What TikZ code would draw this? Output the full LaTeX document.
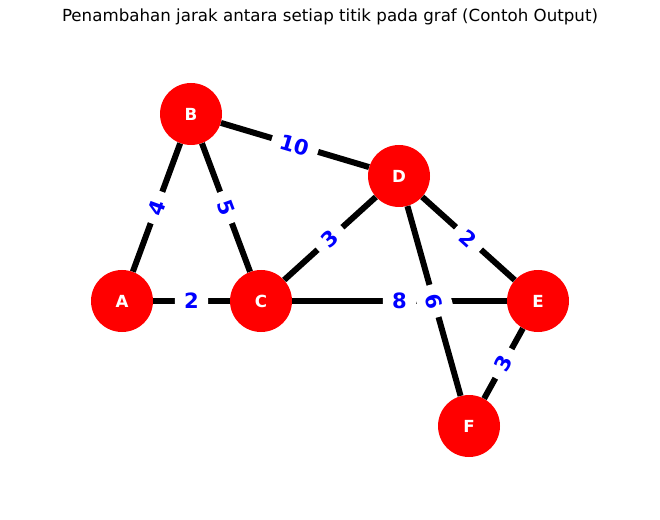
\documentclass[tikz,border=0pt]{standalone}
\usepackage{fontspec}
\setmainfont{DejaVu Sans}
\begin{document}
\begin{tikzpicture}[x=0.75pt,y=-0.75pt,
  vert/.style={circle,fill=red,minimum size=46.5pt,inner sep=0pt,text=white,font=\fontsize{12.5}{14}\selectfont\bfseries},
  edgeline/.style={line width=4.5pt,black},
  elabel/.style={midway,sloped,fill=white,rounded corners=4pt,inner xsep=7pt,inner ysep=7pt,text=blue,font=\fontsize{15.8}{18}\selectfont\bfseries}]
\useasboundingbox (0,0) rectangle (660,520);
\node[font=\fontsize{12.5}{15}\selectfont] (title) at (330,17) {Penambahan jarak antara setiap titik pada graf (Contoh Output)};
\node[vert] (A) at (122,301) {A};
\node[vert] (B) at (191,114) {B};
\node[vert] (C) at (261,301) {C};
\node[vert] (D) at (399,176) {D};
\node[vert] (E) at (538,301) {E};
\node[vert] (F) at (469,426) {F};
\draw[edgeline] (A) -- (B);
\draw[edgeline] (A) -- (C);
\draw[edgeline] (B) -- (C);
\draw[edgeline] (B) -- (D);
\draw[edgeline] (C) -- (D);
\draw[edgeline] (C) -- (E);
\draw[edgeline] (D) -- (E);
\draw[edgeline] (D) -- (F);
\draw[edgeline] (E) -- (F);
\path (A) -- (B) node[elabel] {4};
\path (A) -- (C) node[elabel] {2};
\path (B) -- (C) node[elabel] {5};
\path (B) -- (D) node[elabel] {10};
\path (C) -- (D) node[elabel] {3};
\path (C) -- (E) node[elabel] {8};
\path (D) -- (E) node[elabel] {2};
\path (D) -- (F) node[elabel] {6};
\path (F) -- (E) node[elabel] {3};
\end{tikzpicture}
\end{document}
